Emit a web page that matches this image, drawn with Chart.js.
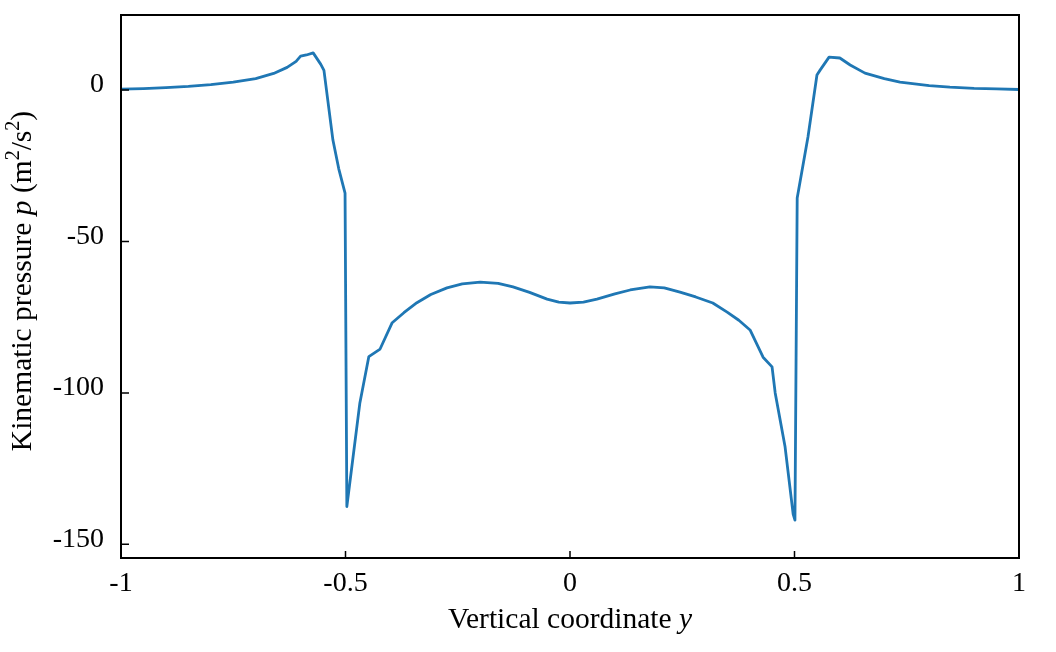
<!DOCTYPE html>
<html>
<head>
<meta charset="utf-8">
<script src="https://cdn.jsdelivr.net/npm/chart.js@4.4.1/dist/chart.umd.min.js"></script>
<style>
    body { margin: 0; background: #fff; }
    #wrap { width: 1056px; height: 652px; }
</style>
</head>
<body>
<div id="wrap"><canvas id="pressureChart" width="1056" height="652"></canvas></div>
<script>
// vertical coordinate y (x-axis of the plot)
const yCoord = [
    -1.0, -0.95, -0.9, -0.85, -0.8, -0.75, -0.7, -0.66, -0.63, -0.61, -0.60, -0.587, -0.572,
    -0.555, -0.548, -0.528, -0.515, -0.501, -0.497, -0.468, -0.448, -0.423, -0.396, -0.37,
    -0.341, -0.31, -0.274, -0.24, -0.2, -0.16, -0.127, -0.09, -0.051, -0.025, 0,
    0.03, 0.06, 0.1, 0.134, 0.178, 0.21, 0.245, 0.28, 0.318, 0.35, 0.376, 0.401, 0.43,
    0.45, 0.457, 0.479, 0.497, 0.501, 0.506, 0.53, 0.55, 0.557, 0.577, 0.601, 0.624,
    0.657, 0.7, 0.735, 0.8, 0.846, 0.9, 0.95, 1.0
];
// kinematic pressure p (m^2/s^2)
const pressure = [
    0.3, 0.5, 0.8, 1.2, 1.8, 2.6, 3.8, 5.5, 7.5, 9.5, 11.2, 11.6, 12.3,
    8.5, 6.5, -16.5, -26, -34, -137.5, -103.3, -88, -85.5, -76.8, -73.5,
    -70.2, -67.5, -65.3, -64, -63.4, -63.8, -65, -66.8, -69, -70, -70.3,
    -70, -69, -67.3, -66, -65, -65.3, -66.7, -68.3, -70.3, -73.3, -76, -79.2, -88.2,
    -91.4, -100, -117.8, -140, -142, -35.6, -15.5, 5, 6.6, 10.9, 10.6, 8.3,
    5.6, 3.8, 2.6, 1.5, 1.0, 0.6, 0.4, 0.2
];
const xTicks = [-1, -0.5, 0, 0.5, 1];
const yTicks = [-150, -100, -50, 0];

const serif = "'Liberation Serif', 'Times New Roman', serif";
const tickFont = { family: serif, size: 28 };

// text runs: plain, italic and superscript pieces
const xTitle = [{ t: 'Vertical coordinate ' }, { t: 'y', it: true }];
const yTitle = [
    { t: 'Kinematic pressure ' }, { t: 'p', it: true }, { t: ' (m' }, { t: '2', sup: true },
    { t: '/s' }, { t: '2', sup: true }, { t: ')' }
];

const runFont = (r) => `${r.it ? 'italic ' : ''}${r.sup ? 20 : 29.5}px ${serif}`;

const drawRuns = (ctx, runs, cx, baseline) => {
    let total = 0;
    runs.forEach(r => { ctx.font = runFont(r); total += ctx.measureText(r.t).width; });
    let x = cx - total / 2;
    ctx.textAlign = 'left';
    ctx.textBaseline = 'alphabetic';
    runs.forEach(r => {
        ctx.font = runFont(r);
        ctx.fillText(r.t, x, r.sup ? baseline - 12 : baseline);
        x += ctx.measureText(r.t).width;
    });
};

const framePlugin = {
    id: 'frame',
    afterDraw: (chart) => {
        const { ctx, chartArea: a, scales } = chart;
        ctx.save();
        ctx.strokeStyle = '#000';
        ctx.lineWidth = 1.5;
        ctx.beginPath();
        scales.x.ticks.forEach(t => {
            const px = scales.x.getPixelForValue(t.value);
            ctx.moveTo(px, a.bottom);
            ctx.lineTo(px, a.bottom - 7);
        });
        scales.y.ticks.forEach(t => {
            const py = scales.y.getPixelForValue(t.value);
            ctx.moveTo(a.left, py);
            ctx.lineTo(a.left + 8, py);
        });
        ctx.stroke();
        ctx.lineWidth = 2;
        ctx.strokeRect(a.left, a.top, a.right - a.left, a.bottom - a.top);

        ctx.fillStyle = '#000';
        drawRuns(ctx, xTitle, (a.left + a.right) / 2, 628);
        ctx.translate(31, 281);
        ctx.rotate(-Math.PI / 2);
        drawRuns(ctx, yTitle, 0, 0);
        ctx.restore();
    }
};

new Chart(document.getElementById('pressureChart').getContext('2d'), {
    type: 'line',
    data: {
        datasets: [{
            data: yCoord.map((x, i) => ({ x, y: pressure[i] })),
            borderColor: '#1f77b4',
            borderWidth: 2.8,
            borderJoinStyle: 'round',
            pointRadius: 0,
            tension: 0,
            fill: false
        }]
    },
    options: {
        responsive: false,
        animation: false,
        layout: { padding: { top: 15, right: 37, bottom: 0, left: 0 } },
        plugins: { legend: { display: false }, tooltip: { enabled: false } },
        scales: {
            x: {
                type: 'linear',
                min: -1,
                max: 1,
                afterBuildTicks: s => { s.ticks = xTicks.map(v => ({ value: v })); },
                afterFit: s => { s.height = 94; s.paddingLeft = 0; s.paddingRight = 0; },
                grid: { display: false },
                border: { display: false },
                ticks: { callback: v => String(v), font: tickFont, color: '#000', padding: 1, maxRotation: 0, autoSkip: false }
            },
            y: {
                type: 'linear',
                min: -154.5,
                max: 24.8,
                afterBuildTicks: s => { s.ticks = yTicks.map(v => ({ value: v })); },
                afterFit: s => { s.width = 121; s.paddingTop = 0; s.paddingBottom = 0; },
                grid: { display: false },
                border: { display: false },
                ticks: { callback: v => String(v), font: tickFont, color: '#000', padding: 9, labelOffset: -5, autoSkip: false }
            }
        }
    },
    plugins: [framePlugin]
});
</script>
</body>
</html>
